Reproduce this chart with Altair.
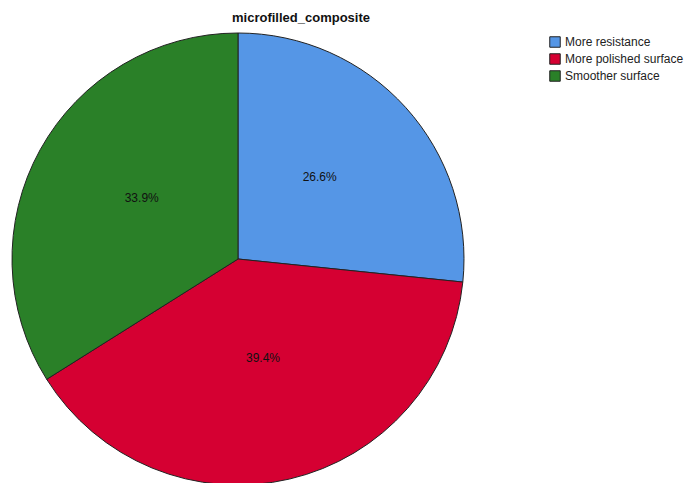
import altair as alt
import pandas as pd

categories = ["More resistance", "More polished surface", "Smoother surface"]
percents = [26.6, 39.4, 33.9]
labels = ["26.6%", "39.4%", "33.9%"]
colors = ["#5596E6", "#D50032", "#2A8028"]

df = pd.DataFrame({"category": categories, "pct": percents, "label": labels,
                   "order": [0, 1, 2]})

CX, CY, R = 238, 259, 226

base = alt.Chart(df).encode(
    theta=alt.Theta("pct:Q", stack=True),
    order=alt.Order("order:Q"),
)

pie = base.mark_arc(outerRadius=R, stroke="#222222", strokeWidth=1).encode(
    x=alt.value(CX), y=alt.value(CY),
    color=alt.Color("category:N", sort=categories,
                    scale=alt.Scale(domain=categories, range=colors),
                    legend=alt.Legend(title=None, orient="none", legendX=549, legendY=36,
                                      symbolType="square", symbolSize=110,
                                      symbolStrokeColor="#222222", symbolStrokeWidth=1,
                                      symbolOpacity=1,
                                      labelFont="Liberation Sans", labelFontSize=12,
                                      labelColor="#222222", rowPadding=1,
                                      labelOffset=4)),
)

text = base.mark_text(radius=110, dy=-8, font="Liberation Sans", fontSize=12,
                      color="#111111").encode(
    x=alt.value(CX), y=alt.value(CY),
    text="label:N",
)

title = alt.Chart(pd.DataFrame({"t": ["microfilled_composite"]})).mark_text(
    font="Liberation Sans", fontSize=13, fontWeight="bold", color="#111111"
).encode(x=alt.value(301), y=alt.value(18), text="t:N")

chart = alt.layer(pie, text, title).properties(
    width=693, height=483, padding=0, autosize=alt.AutoSizeParams(type="none"),
    background="white"
).configure_view(stroke=None)

chart.save("out.html", embed_options={"renderer": "svg", "actions": False})
